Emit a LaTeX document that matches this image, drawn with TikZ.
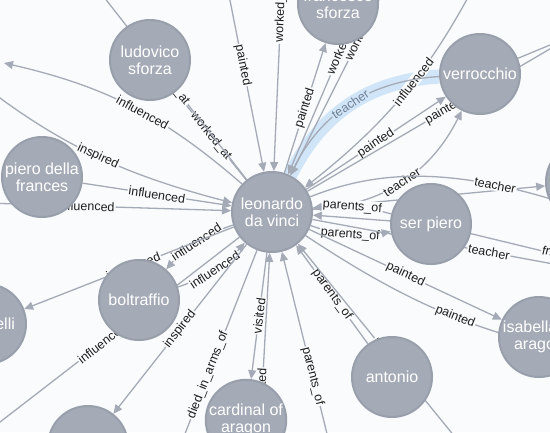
\documentclass[tikz,border=0pt]{standalone}
\usepackage{fontspec}
\setmainfont{Liberation Sans}
\usetikzlibrary{arrows.meta}

\definecolor{canvas}{RGB}{249,251,253}
\definecolor{nodegray}{RGB}{165,171,182}
\definecolor{nodeedge}{RGB}{152,159,171}
\definecolor{relgray}{RGB}{165,171,182}
\definecolor{selblue}{RGB}{208,229,248}
\definecolor{seltext}{RGB}{112,128,148}
\definecolor{lbltext}{RGB}{30,30,30}

\pgfdeclarelayer{back}
\pgfdeclarelayer{rels}
\pgfsetlayers{back,rels,main}

\begin{document}
\begin{tikzpicture}[x=1pt,y=-1pt,
		person/.style={circle, fill=nodegray, draw=nodeedge, line width=2pt, minimum size=80pt, inner sep=0pt, text=white, align=center, font=\fontsize{16}{17}\selectfont},
		rel/.style={draw=relgray, line width=1.3pt, -{Triangle[length=9pt,width=8pt]}},
		rlabel/.style={sloped, fill=canvas, text=lbltext, inner sep=1pt, font=\fontsize{12.5}{13}\selectfont},
		selband/.style={draw=selblue, line width=14pt}]
	\useasboundingbox (0,0) rectangle (550,432);
	\begin{pgfonlayer}{back}
		\fill[canvas] (0,0) rectangle (550,432);
	\end{pgfonlayer}

	% People
	\node[person] (leo) at (272,212) {leonardo\\da vinci};
	\node[person] (ludo) at (150,60) {ludovico\\sforza};
	\node[person] (piero) at (42,177) {piero della\\frances};
	\node[person] (fran) at (338,4) {francesco\\sforza};
	\node[person] (verr) at (480,74) {verrocchio};
	\node[person] (ser) at (431,224) {ser piero};
	\node[person] (isab) at (539,337) {isabella of\\aragon};
	\node[person] (anto) at (392,377) {antonio};
	\node[person] (bolt) at (139,300) {boltraffio};
	\node[person] (bott) at (-14,324) {botticelli};
	\node[person] (card) at (246,420) {cardinal of\\aragon};
	\node[person] (lowl) at (88,446) {};
	\node[person] (rnode) at (586,182) {};

	% Ends of relations running off the picture
	\coordinate (c_pt) at (218,-60);
	\coordinate (c_wt) at (284,-60);
	\coordinate (c_wf) at (414,-120);
	\coordinate (c_wt2) at (409,-60);
	\coordinate (c_inf) at (480,-25);
	\coordinate (c_pv) at (618,9);
	\coordinate (c_vr) at (620,16);
	\coordinate (c_tr) at (600,215);
	\coordinate (c_sb) at (705,292);
	\coordinate (c_sr) at (650,277);
	\coordinate (c_pi) at (620,360);
	\coordinate (c_pa) at (490,480);
	\coordinate (c_pb) at (336,470);
	\coordinate (c_pd) at (256,500);
	\coordinate (c_di) at (159,500);
	\coordinate (c_bl) at (-66,473);
	\coordinate (c_pl) at (-110,200);
	\coordinate (c_ins) at (-60,50);
	\coordinate (c_il) at (4,63);
	\coordinate (c_lt) at (75,-40);

	\begin{pgfonlayer}{rels}
		% selected relation
		\path[selband] (verr) to[bend right=30] (leo);

		% from above
		\draw[rel] (c_pt) -- node[rlabel, pos=.54] {painted} (leo);
		\draw[rel] (c_wt) -- node[rlabel, pos=.32] {worked\_at} (leo);
		\draw[rel] (c_wf) -- node[rlabel, pos=.57] {worked\_at} (leo);
		\draw[rel] (c_wt2) -- node[rlabel, pos=.4] {worked\_at} (leo);
		\draw[rel] (c_inf) to[bend left=12] node[rlabel, pos=.45] {influenced} (leo);
		\draw[rel] (leo) -- node[rlabel] {painted} (fran);

		% verrocchio
		\draw[rel] (verr) to[bend right=30] node[rlabel, fill=selblue, text=seltext] {teacher} (leo);
		\draw[rel] (leo) -- node[rlabel] {painted} (verr);
		\draw[rel] (leo) to[bend right=30] node[rlabel] {teacher} (verr);
		\draw[rel] (leo) -- node[rlabel, pos=.44] {painted} (c_pv);
		\draw[rel] (verr) -- (c_vr);

		% ser piero and the right
		\draw[rel] (leo) -- (rnode);
		\draw[rel] (leo) .. controls (390,165) and (470,170) .. node[rlabel, pos=.7] {teacher} (c_tr);
		\draw[rel] (ser) -- (leo);
		\draw[rel] (ser) to[bend right=10] node[rlabel] {parents\_of} (leo);
		\draw[rel] (leo) to[bend right=15] node[rlabel] {parents\_of} (ser);
		\draw[rel] (leo) -- node[rlabel, pos=.45] {teacher} (c_sb);
		\draw[rel] (ser) -- node[rlabel, pos=.53] {friend\_of} (c_sr);

		% isabella, antonio
		\draw[rel] (leo) -- node[rlabel] {painted} (isab);
		\draw[rel] (leo) to[bend right=12] node[rlabel] {painted} (c_pi);
		\draw[rel] (anto) -- node[rlabel] {parents\_of} (leo);
		\draw[rel] (c_pa) -- node[rlabel] {parents\_of} (leo);

		% below
		\draw[rel] (c_pb) -- node[rlabel, pos=.43] {parents\_of} (leo);
		\draw[rel] (c_pd) -- node[rlabel, pos=.45] {painted} (leo);
		\draw[rel] (leo) -- node[rlabel] {visited} (card);
		\draw[rel] (leo) -- node[rlabel] {died\_in\_arms\_of} (c_di);

		% boltraffio and the left
		\draw[rel] (bolt) to[bend right=15] node[rlabel] {influenced} (leo);
		\draw[rel] (leo) to[bend right=15] node[rlabel] {influenced} (bolt);
		\draw[rel] (leo) -- node[rlabel, pos=.48] {influenced} (bott);
		\draw[rel] (leo) -- node[rlabel, pos=.45] {influenced} (c_bl);
		\draw[rel] (leo) -- node[rlabel] {inspired} (lowl);
		\draw[rel] (piero) -- node[rlabel] {influenced} (leo);
		\draw[rel] (c_pl) -- node[rlabel, pos=.575] {influenced} (leo);
		\draw[rel] (c_ins) to[bend right=13] node[rlabel, pos=.58] {inspired} (leo);
		\draw[rel] (leo) to[bend right=14] node[rlabel, pos=.45] {influenced} (c_il);

		% ludovico
		\draw[rel] (leo) -- node[rlabel] {worked\_at} (ludo);
		\draw[rel] (leo) -- node[rlabel, pos=.45] {worked\_at} (c_lt);
	\end{pgfonlayer}
\end{tikzpicture}
\end{document}
